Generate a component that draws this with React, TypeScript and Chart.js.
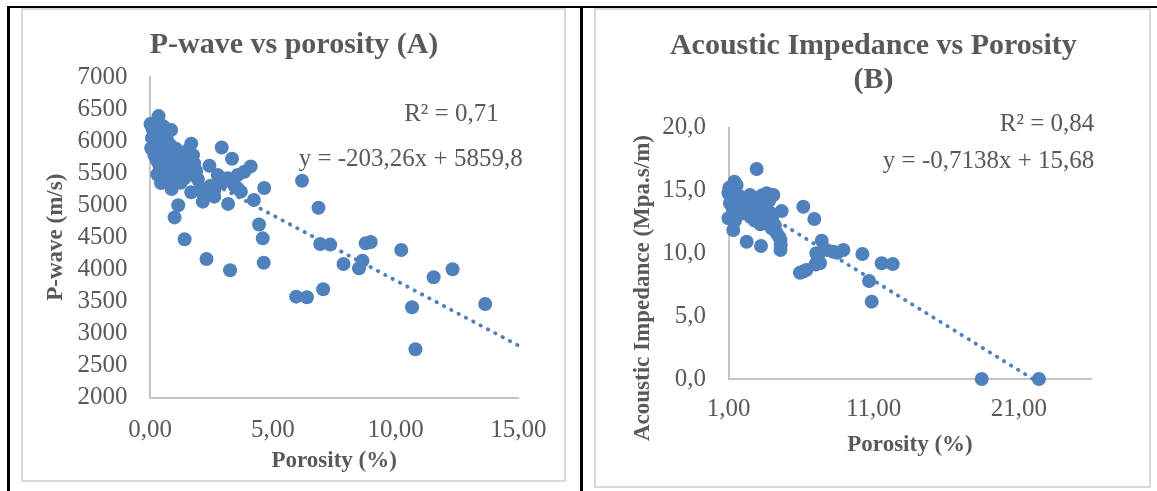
import React, { useEffect, useRef } from "react";
import { Chart, registerables } from "chart.js";

Chart.register(...registerables);

// ---- Panel A: P-wave velocity against porosity ----
const porosityA = [
  0.02, 0.1, 0.35, 0.25, 0.15, 0.2, 0.4, 0.45, 0.55, 0.6, 0.7, 0.86, 0.08, 0.05, 0.2, 0.3, 0.4, 0.5,
  0.6, 0.75, 0.85, 0.95, 1.05, 0.18, 0.28, 0.38, 0.48, 0.55, 0.65, 0.78, 0.88, 0.98, 1.08, 1.18,
  1.28, 1.38, 1.48, 1.55, 1.68, 1.75, 0.3, 0.45, 0.65, 0.8, 0.88, 1.0, 1.1, 1.22, 1.25, 1.4, 1.52,
  1.62, 1.8, 1.88, 1.95, 1.68, 1.15, 1.0, 1.41,
  2.05, 2.15, 2.2, 2.42, 2.45, 2.62, 2.62, 2.76, 2.92, 2.95, 3.16, 3.18, 3.34, 3.45, 3.57, 3.57,
  3.7, 3.84, 4.1, 4.23, 4.65, 4.44, 4.59, 4.63, 2.3, 3.26,
  6.19, 6.86, 6.93, 7.34, 8.78, 8.99, 10.23, 7.88, 8.65, 8.51, 11.55, 12.32, 5.95, 6.39, 7.05,
  10.67, 13.65, 10.81,
];
const pWaveA = [
  6266, 6200, 6390, 6300, 6150, 6100, 6220, 6130, 6230, 6080, 6010, 6173, 6050, 5888, 5980, 5930,
  5860, 5960, 5800, 5880, 5930, 5820, 5880, 5780, 5700, 5620, 5720, 5540, 5640, 5700, 5580, 5660,
  5740, 5800, 5640, 5820, 5720, 5860, 5960, 5780, 5480, 5345, 5420, 5350, 5253, 5400, 5460, 5520,
  5350, 5420, 5560, 5480, 5650, 5533, 5400, 5201, 5000, 4810, 4468,
  5250, 5055, 5133, 5616, 5300, 5237, 5133, 5471, 5900, 5350, 5419, 5020, 5725, 5300, 5471, 5263,
  5211, 5523, 5605, 5081, 5268, 4700, 4483, 4103, 4160, 3985,
  5382, 4961, 4395, 4385, 4405, 4426, 4301, 4083, 4134, 4015, 3875, 4000, 3573, 3563, 3688,
  3407, 3459, 2752,
];
const trendA = { slope: -203.26, intercept: 5859.8, r2: 0.71, xEnd: 15 };
const xTicksA = [0, 5, 10, 15];
const yTicksA = [2000, 2500, 3000, 3500, 4000, 4500, 5000, 5500, 6000, 6500, 7000];

// ---- Panel B: acoustic impedance against porosity ----
const porosityB = [
  1.0, 1.05, 1.22, 1.41, 1.56, 1.2, 1.35, 1.5, 1.7, 1.85, 2.0, 1.1, 1.56, 1.3, 1.75, 2.02, 2.2,
  2.35, 2.48, 2.6, 2.75, 2.9, 3.1, 3.3, 3.63, 4.09, 3.45, 3.6, 3.8, 3.9, 3.05, 2.5, 2.8, 3.2, 3.4,
  3.63, 3.75, 4.0, 3.98, 4.2, 4.32, 4.66, 1.0, 1.45, 1.33, 2.94, 2.25, 3.24, 4.5, 4.58, 4.58, 4.6,
  6.15, 6.91, 7.42, 7.05, 7.15, 6.99, 7.3, 7.76, 5.92, 6.15, 6.36, 8.22, 8.5, 8.91, 10.22, 11.55,
  12.31, 10.68, 10.86, 18.44, 22.38,
];
const impedanceB = [
  14.77, 15.2, 15.03, 15.69, 15.43, 14.4, 14.9, 14.2, 14.6, 13.9, 14.3, 13.97, 13.7, 13.5, 13.1,
  13.3, 13.6, 14.0, 14.63, 13.3, 13.8, 14.4, 14.0, 14.6, 14.77, 14.63, 13.5, 13.9, 14.2, 13.2,
  13.04, 12.9, 12.6, 12.3, 12.9, 12.51, 12.4, 12.7, 11.98, 12.2, 11.59, 13.35, 12.78, 12.6, 11.85,
  16.7, 10.92, 10.58, 11.3, 11.05, 10.26, 10.65,
  13.7, 12.72, 11.0, 10.0, 9.6, 9.1, 9.2, 10.26, 8.45, 8.55, 8.67, 10.12, 10.04, 10.26, 9.94, 9.2,
  9.15, 7.79, 6.15, 0, 0,
];
const trendB = { slope: -0.7138, intercept: 15.68, r2: 0.84 };
const xTicksB = [1, 11, 21];
const xMaxB = 26;
const yTicksB = [0, 5, 10, 15, 20];

const BLUE = "#4F81BD";
const TEXT = "#595959";
const AXIS = "#C4C4C4";
const FONT = '"Liberation Serif", "Times New Roman", serif';

const fmt = (v: number, d: number) => v.toFixed(d).replace(".", ",");

type TextItem = {
  text: string;
  x: number;
  y: number;
  size: number;
  bold?: boolean;
  align?: CanvasTextAlign;
  rotate?: number;
};

// Draws chart titles and regression annotations onto the canvas.
function textPlugin(items: TextItem[]) {
  return {
    id: "panelText",
    afterDraw(chart: any) {
      const ctx: CanvasRenderingContext2D = chart.ctx;
      for (const t of items) {
        ctx.save();
        ctx.font = `${t.bold ? "bold " : ""}${t.size}px ${FONT}`;
        ctx.fillStyle = TEXT;
        ctx.textAlign = t.align || "center";
        ctx.textBaseline = "middle";
        ctx.translate(t.x, t.y);
        if (t.rotate) ctx.rotate(t.rotate);
        ctx.fillText(t.text, 0, 0);
        ctx.restore();
      }
    },
  };
}

type Panel = {
  xs: number[];
  ys: number[];
  trend: { slope: number; intercept: number };
  trendRange: [number, number];
  xTicks: number[];
  yTicks: number[];
  xMax: number;
  xDecimals: number;
  yDecimals: number;
  xTitle: string;
  xTitlePad: number;
  yTitle?: string;
  yTitlePad?: number;
  xTickPad: number;
  yWidth: number;
  xHeight: number;
  padTop: number;
  padRight: number;
  texts: TextItem[];
};

function makeConfig(p: Panel): any {
  const points = p.xs.map((x, i) => ({ x, y: p.ys[i] }));
  const line = p.trendRange.map((x) => ({ x, y: p.trend.slope * x + p.trend.intercept }));
  const tickFont = { family: FONT, size: 25 };
  const titleFont = { family: FONT, size: 23, weight: "bold" };
  return {
    type: "scatter",
    data: {
      datasets: [
        {
          data: points,
          pointRadius: 7,
          pointHoverRadius: 7,
          pointBackgroundColor: BLUE,
          pointBorderWidth: 0,
          clip: false,
          order: 1,
        },
        {
          data: line,
          showLine: true,
          pointRadius: 0,
          borderColor: BLUE,
          borderWidth: 3.8,
          borderDash: [0.5, 7.8],
          borderCapStyle: "round",
          tension: 0,
          fill: false,
          clip: false,
          order: 2,
        },
      ],
    },
    options: {
      animation: false,
      responsive: false,
      devicePixelRatio: 1,
      events: [],
      layout: { padding: { top: p.padTop, right: p.padRight, left: 0, bottom: 0 } },
      plugins: { legend: { display: false }, tooltip: { enabled: false }, title: { display: false } },
      scales: {
        x: {
          type: "linear",
          min: p.xTicks[0],
          max: p.xMax,
          grid: { display: false, drawTicks: false },
          border: { display: true, color: AXIS, width: 2 },
          afterBuildTicks: (s: any) => {
            s.ticks = p.xTicks.map((value) => ({ value }));
          },
          afterFit: (s: any) => {
            s.height = p.xHeight;
          },
          ticks: {
            color: TEXT,
            font: tickFont,
            padding: p.xTickPad,
            autoSkip: false,
            maxRotation: 0,
            callback: (v: number) => fmt(v, p.xDecimals),
          },
          title: {
            display: true,
            text: p.xTitle,
            color: TEXT,
            font: titleFont,
            padding: { top: 0, bottom: p.xTitlePad },
          },
        },
        y: {
          type: "linear",
          min: p.yTicks[0],
          max: p.yTicks[p.yTicks.length - 1],
          grid: { display: false, drawTicks: false },
          border: { display: true, color: AXIS, width: 2 },
          afterBuildTicks: (s: any) => {
            s.ticks = p.yTicks.map((value) => ({ value }));
          },
          afterFit: (s: any) => {
            s.width = p.yWidth;
          },
          ticks: {
            color: TEXT,
            font: tickFont,
            padding: 22.5,
            autoSkip: false,
            callback: (v: number) => fmt(v, p.yDecimals),
          },
          title: {
            display: !!p.yTitle,
            text: p.yTitle || "",
            color: TEXT,
            font: titleFont,
            padding: { top: p.yTitlePad || 0, bottom: 0 },
          },
        },
      },
    },
    plugins: [textPlugin(p.texts)],
  };
}

const panelA: Panel = {
  xs: porosityA,
  ys: pWaveA,
  trend: trendA,
  trendRange: [Math.min(...porosityA), trendA.xEnd],
  xTicks: xTicksA,
  yTicks: yTicksA,
  xMax: xTicksA[xTicksA.length - 1],
  xDecimals: 2,
  yDecimals: 0,
  xTitle: "Porosity (%)",
  xTitlePad: 5.4,
  yTitle: "P-wave (m/s)",
  yTitlePad: 19.5,
  xTickPad: 17.5,
  yWidth: 127,
  xHeight: 82.5,
  padTop: 67,
  padRight: 44,
  texts: [
    { text: "P-wave vs porosity (A)", x: 271, y: 35.5, size: 30, bold: true },
    { text: `R² = ${fmt(trendA.r2, 2)}`, x: 475.7, y: 104.8, size: 25, align: "right" },
    {
      text: `y = ${fmt(trendA.slope, 2)}x + ${fmt(trendA.intercept, 1)}`,
      x: 499.7,
      y: 149.5,
      size: 25,
      align: "right",
    },
  ],
};

const panelB: Panel = {
  xs: porosityB,
  ys: impedanceB,
  trend: trendB,
  trendRange: [Math.min(...porosityB), Math.max(...porosityB)],
  xTicks: xTicksB,
  yTicks: yTicksB,
  xMax: xMaxB,
  xDecimals: 2,
  yDecimals: 1,
  xTitle: "Porosity (%)",
  xTitlePad: 27.5,
  xTickPad: 15.3,
  yWidth: 132.5,
  xHeight: 107,
  padTop: 117.5,
  padRight: 57.5,
  texts: [
    { text: "Acoustic Impedance vs Porosity", x: 277.4, y: 35.8, size: 30, bold: true },
    { text: "(B)", x: 277.4, y: 70.5, size: 30, bold: true },
    { text: `R² = ${fmt(trendB.r2, 2)}`, x: 498.3, y: 114.2, size: 25, align: "right" },
    {
      text: `y = ${fmt(trendB.slope, 4)}x + ${fmt(trendB.intercept, 2)}`,
      x: 498.3,
      y: 151.7,
      size: 25,
      align: "right",
    },
    {
      text: "Acoustic Impedance (Mpa.s/m)",
      x: 47.3,
      y: 278,
      size: 23,
      bold: true,
      rotate: -Math.PI / 2,
    },
  ],
};

const abs = (left: number, top: number, width: number, height: number): React.CSSProperties => ({
  position: "absolute",
  left,
  top,
  width,
  height,
  boxSizing: "border-box",
});

export default function App() {
  const refA = useRef<HTMLCanvasElement>(null);
  const refB = useRef<HTMLCanvasElement>(null);

  useEffect(() => {
    const a = new Chart(refA.current!, makeConfig(panelA));
    const b = new Chart(refB.current!, makeConfig(panelB));
    return () => {
      a.destroy();
      b.destroy();
    };
  }, []);

  return (
    <div style={{ position: "fixed", left: 0, top: 0, width: 1157, height: 491, background: "#fff", overflow: "hidden" }}>
      {/* table rules */}
      <div style={{ ...abs(7, 6, 1150, 2), background: "#000" }} />
      <div style={{ ...abs(7, 6, 3, 485), background: "#000" }} />
      <div style={{ ...abs(580, 6, 3, 485), background: "#000" }} />
      {/* chart frames */}
      <div style={{ ...abs(21, 8, 545, 474), border: "2px solid #D9D9D9" }} />
      <div style={{ ...abs(594, 8, 557, 480), border: "2px solid #D9D9D9" }} />
      <canvas ref={refA} width={541} height={470} style={abs(23, 10, 541, 470)} />
      <canvas ref={refB} width={553} height={476} style={abs(596, 10, 553, 476)} />
    </div>
  );
}
